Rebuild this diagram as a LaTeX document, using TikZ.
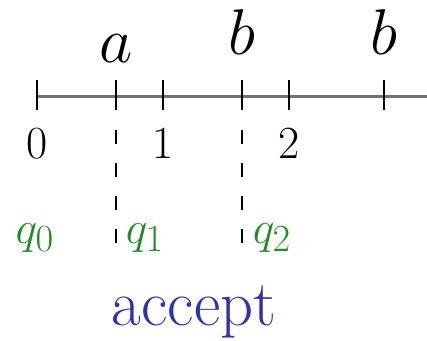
\documentclass[tikz,border=0pt]{standalone}
\usepackage{tikz}
\usetikzlibrary{positioning}
\definecolor{stategreen}{RGB}{34,139,34}
\definecolor{acceptblue}{RGB}{50,50,170}

\begin{document}
\begin{tikzpicture}[x=1pt,y=-1pt,
		axis/.style={draw,black!55,line width=3pt},
		tick/.style={draw,line width=2pt},
		cut/.style={draw,line width=1.6pt,dash pattern=on 14pt off 19pt},
		sym/.style={anchor=base,inner sep=0pt,font=\Huge,scale=2.6},
		num/.style={anchor=base,inner sep=0pt,font=\Huge,scale=1.85},
		st/.style={anchor=base,inner sep=0pt,text=stategreen,font=\Huge,scale=1.85},
		res/.style={anchor=base,inner sep=0pt,text=acceptblue,font=\Huge,scale=2.6}
		]
		\useasboundingbox (0,0) rectangle (427,340);
		
		% the line and its ticks
		\coordinate (start) at (37,96);
		\coordinate (end) at (427,96);
		\path [axis] (start) -- (end);
		\foreach \n/\x in {0/37,1/116,2/163,3/242,4/289,5/384} {
			\coordinate (top\n) at (\x,80);
			\coordinate (bot\n) at (\x,110);
			\path [tick] (top\n) -- (bot\n);
		}
		
		% input symbols
		\node [sym] (sym a) at (116,62) {$a$};
		\node [sym] (sym b1) at (242,54) {$b$};
		\node [sym] (sym b2) at (384,54) {$b$};
		
		% positions
		\node [num] (pos0) at (37,158) {0};
		\node [num] (pos1) at (163,158) {1};
		\node [num] (pos2) at (289,158) {2};
		
		% cuts
		\coordinate (cut1 top) at (116,130);
		\coordinate (cut1 bot) at (116,245);
		\coordinate (cut2 top) at (242,130);
		\coordinate (cut2 bot) at (242,245);
		\path [cut] (cut1 top) -- (cut1 bot);
		\path [cut] (cut2 top) -- (cut2 bot);
		
		% states
		\node [st] (q0) at (35,243) {$q_0$};
		\node [st] (q1) at (145,243) {$q_1$};
		\node [st] (q2) at (272,243) {$q_2$};
		
		\node [res] (accept) at (194,325) {accept};
		
	\end{tikzpicture}
\end{document}
